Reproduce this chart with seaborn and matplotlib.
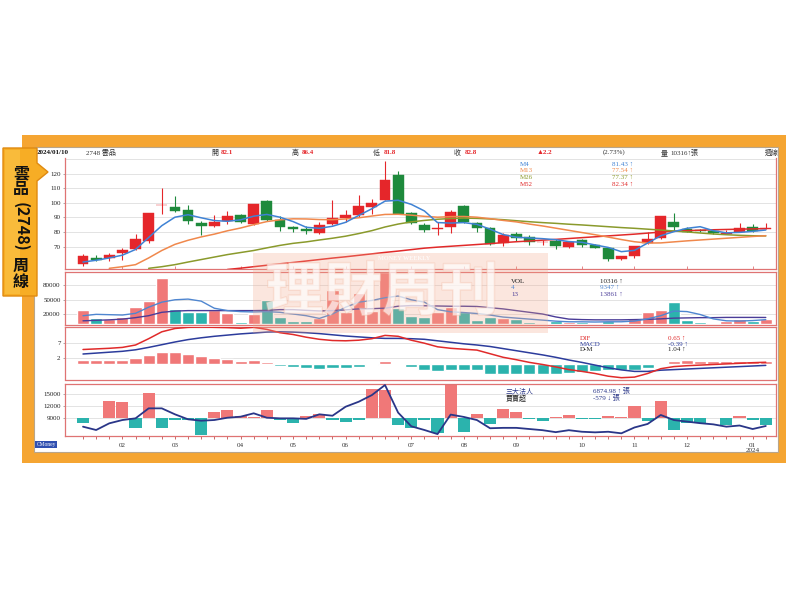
import numpy as np
import pandas as pd
import matplotlib
matplotlib.use("Agg")
import matplotlib.pyplot as plt
import matplotlib.patheffects as pe
from matplotlib.patches import Rectangle, Polygon
import seaborn as sns

nan = float("nan")

# ---------------- weekly data 2023/01 - 2024/01/10 (2748 雲品) ----------------
opens = [58.4, 62.3, 62.3, 65.6, 68.1, 74.0, 98.5, 97.2, 95.0, 86.3,
         84.2, 87.7, 92.0, 85.6, 101.4, 88.4, 83.3, 82.3, 79.3, 85.6,
         89.8, 91.4, 97.2, 102.3, 119.3, 93.3, 85.0, 82.3, 83.3, 97.7,
         86.0, 82.6, 72.4, 78.8, 76.7, 73.0, 74.2, 70.0, 74.3, 71.1,
         69.0, 61.6, 63.4, 72.5, 75.7, 86.7, 82.3, 81.2, 80.8, 79.0,
         80.2, 83.4, 82.1]
highs = [65.0, 64.6, 65.8, 68.8, 78.6, 93.3, 110.5, 104.6, 98.4, 87.4,
         91.4, 94.4, 92.6, 99.5, 102.3, 90.7, 84.4, 84.4, 86.7, 101.9,
         95.3, 105.3, 103.0, 128.5, 121.6, 93.7, 86.0, 86.7, 94.9, 98.4,
         86.7, 83.3, 79.1, 79.8, 77.8, 74.5, 75.0, 73.5, 75.3, 72.0,
         70.0, 63.8, 70.7, 79.8, 91.0, 92.8, 83.6, 82.0, 81.2, 81.5,
         86.5, 85.5, 86.4]
lows = [56.5, 60.0, 60.5, 61.0, 67.4, 72.8, 92.6, 93.7, 85.6, 78.1,
        83.3, 85.6, 86.0, 85.1, 87.9, 80.9, 79.8, 78.6, 78.6, 85.1,
        86.7, 90.2, 92.6, 101.9, 92.1, 85.6, 79.8, 78.1, 79.1, 86.0,
        79.8, 71.2, 70.5, 74.0, 71.5, 71.2, 68.5, 69.3, 70.0, 68.8,
        60.5, 60.6, 62.3, 72.0, 75.6, 80.9, 79.8, 80.0, 78.6, 78.8,
        79.8, 80.4, 81.8]
closes = [63.5, 61.0, 64.2, 67.4, 75.1, 93.3, 98.8, 94.2, 87.5, 84.2,
          87.2, 90.9, 87.2, 99.5, 88.6, 83.7, 81.9, 80.5, 85.1, 89.8,
          91.4, 97.7, 100.0, 115.8, 92.1, 86.3, 81.6, 82.6, 93.7, 86.7,
          82.6, 71.8, 78.3, 76.2, 73.5, 73.4, 70.2, 73.0, 71.2, 69.0,
          61.3, 63.4, 70.2, 75.4, 90.8, 83.6, 80.2, 80.9, 79.3, 79.6,
          82.8, 80.6, 82.8]

ma4 = [59.5, 60.7, 62.3, 64.2, 68.1, 76.3, 84.4, 90.2, 91.9, 89.8,
       87.9, 87.4, 88.4, 90.9, 92.1, 90.2, 87.2, 83.3, 82.6, 84.0,
       86.7, 91.4, 96.0, 101.2, 101.8, 99.0, 94.5, 86.5, 86.2, 86.5,
       85.3, 82.0, 78.3, 76.5, 76.0, 75.5, 74.8, 73.5, 73.0, 71.2,
       69.5, 66.6, 67.5, 72.5, 77.5, 80.3, 82.6, 83.7, 81.0, 79.5,
       79.8, 80.5, 81.43]
ma13 = [nan, nan, 55.2, 56.3, 57.7, 62.3, 67.4, 71.6, 74.4, 76.7,
        78.6, 80.9, 82.8, 85.1, 87.2, 88.4, 89.1, 89.0, 88.6, 88.5,
        89.0, 89.8, 91.0, 92.1, 92.2, 91.6, 90.8, 90.2, 90.6, 90.7,
        90.2, 89.2, 88.0, 87.0, 85.5, 84.2, 82.7, 81.2, 79.7, 78.2,
        76.6, 74.9, 73.4, 72.5, 72.6, 73.3, 74.0, 74.6, 75.2, 75.8,
        76.4, 77.0, 77.54]
ma26 = [nan, nan, nan, nan, nan, 55.2, 56.3, 57.7, 59.5, 61.2,
        62.9, 64.6, 66.0, 67.4, 69.2, 70.9, 72.3, 73.3, 74.6, 75.8,
        77.2, 79.0, 81.0, 83.5, 85.5, 87.0, 88.0, 88.8, 89.3, 89.6,
        89.4, 89.0, 88.5, 87.8, 87.1, 86.5, 86.0, 85.4, 84.9, 84.3,
        83.7, 83.1, 82.6, 82.0, 81.4, 80.8, 80.1, 79.4, 78.7, 78.2,
        77.8, 77.5, 77.37]
ma52 = [nan, nan, nan, nan, nan, nan, nan, nan, nan, nan,
        nan, 54.4, 55.3, 56.3, 57.3, 58.3, 59.2, 60.2, 61.2, 62.2,
        63.1, 64.1, 65.1, 66.1, 67.0, 68.0, 69.0, 69.7, 70.3, 70.9,
        71.5, 72.1, 72.8, 73.4, 73.9, 74.5, 75.0, 75.6, 76.2, 76.8,
        77.4, 78.0, 78.6, 79.3, 80.0, 80.6, 81.0, 81.3, 81.6, 81.8,
        82.0, 82.2, 82.34]

volume = [30000, 12600, 10500, 15400, 35000, 46800, 95800, 31500, 25900, 25900,
          30000, 23000, 4900, 21000, 50300, 14000, 7000, 7000, 11900, 70000,
          25900, 65000, 28000, 108000, 32900, 17500, 15400, 25900, 35000, 24500,
          9100, 14000, 12600, 10500, 4900, 3500, 5600, 4900, 4900, 3500,
          7000, 3500, 11900, 24500, 29400, 45400, 9100, 4900, 3500, 7000,
          10500, 7000, 10316]
vol_ma4 = [17500, 20300, 19600, 18900, 22400, 35000, 45400, 50300, 51700, 47500,
           32900, 28000, 25900, 25200, 25900, 24500, 21000, 17500, 11900, 21000,
           35000, 45400, 48900, 54500, 58000, 50300, 45400, 30000, 25500, 24000,
           22000, 18900, 14700, 12600, 10500, 8400, 6300, 5000, 4900, 4500,
           5000, 5000, 6500, 11000, 17500, 27000, 26000, 20000, 11000, 7000,
           6500, 7500, 9347]
vol_ma13 = [7000, 8000, 9000, 10500, 13500, 17500, 24500, 27000, 28000, 28000,
            28000, 28000, 28000, 28000, 28500, 30000, 30000, 28500, 27300, 28000,
            29500, 31500, 32000, 33000, 37000, 38400, 38000, 37500, 37000, 37000,
            36500, 34000, 31500, 28000, 24500, 21000, 15000, 10500, 9500, 9000,
            9000, 9000, 9500, 10000, 11000, 12500, 13000, 13500, 13500, 14000,
            14000, 14000, 13861]

dif = [4.9, 5.1, 5.3, 5.6, 6.4, 8.5, 10.8, 11.9, 12.3, 12.4,
       12.3, 12.2, 12.0, 12.3, 11.6, 10.5, 9.9, 9.0, 8.3, 7.9,
       7.8, 8.0, 8.5, 9.6, 9.3, 8.0, 7.0, 5.8, 5.3, 5.0,
       4.7, 3.5, 2.3, 1.5, 0.6, -0.1, -0.9, -1.8, -2.4, -3.1,
       -4.0, -4.5, -4.3, -3.1, -1.5, -0.8, -0.5, -0.3, -0.1, 0.1,
       0.3, 0.5, 0.65]
macd = [3.4, 3.7, 4.0, 4.3, 4.8, 5.6, 6.5, 7.4, 8.2, 8.8,
        9.3, 9.7, 10.1, 10.4, 10.7, 10.8, 10.7, 10.5, 10.2, 9.8,
        9.4, 9.1, 8.8, 8.6, 8.6, 8.5, 8.3, 7.8, 7.3, 6.8,
        6.4, 5.9, 5.2, 4.5, 3.8, 3.1, 2.3, 1.4, 0.6, -0.3,
        -1.2, -1.9, -2.4, -2.4, -2.0, -1.8, -1.6, -1.4, -1.2, -1.0,
        -0.8, -0.6, -0.39]
osc = [1.55, 1.3, 1.3, 1.4, 1.9, 3.0, 4.1, 4.1, 3.4, 2.6,
       2.1, 1.8, 1.0, 1.3, 0.6, -0.7, -1.0, -1.4, -1.7, -1.4,
       -1.2, -0.8, -0.3, 1.0, 0.2, -0.9, -1.9, -2.3, -1.8, -1.8,
       -2.1, -3.2, -3.2, -3.2, -3.2, -3.2, -3.2, -2.9, -2.6, -2.3,
       -2.1, -1.8, -1.8, -1.2, 0.3, 1.2, 1.3, 1.2, 1.1, 1.1,
       1.0, 1.0, 1.04]

inst_net = [-1450, 0, 4360, 4020, -2650, 6330, -2650, -700, -600, -4360,
            1450, 2050, 340, 260, 1970, -510, -1450, 510, 1030, -510,
            -1030, -510, 7350, 7100, -1800, -2650, -680, -3930, 8720, -3680,
            1030, -1620, 2220, 1450, -340, -770, 170, 770, -340, -430,
            510, 170, 3080, -770, 4190, -3080, -1370, -1370, 0, -1970,
            340, -510, -1970]
inst_hold = [6700, 5850, 7560, 8410, 8840, 11400, 11400, 9870, 8590, 8230,
             8410, 9000, 9260, 10130, 9000, 8840, 8840, 8700, 9870, 9510,
             11820, 13100, 14800, 17380, 10300, 6800, 5850, 4800, 9800, 9200,
             8400, 6300, 6400, 6400, 6100, 5800, 5300, 5800, 5400, 5250,
             5400, 5000, 6500, 7400, 9700, 8400, 8000, 7600, 7300, 6700,
             7000, 6100, 6875]

month_pos = [3, 7, 12, 16, 20, 25, 29, 33, 38, 42, 46, 51]
month_labels = ["02", "03", "04", "05", "06", "07", "08", "09", "10", "11", "12", "01\n2024"]
price_ticks = [70, 80, 90, 100, 110, 120]
vol_ticks = [20000, 50000, 80000]
macd_ticks = [2, 7]
inst_ticks = [9000, 12000, 15000]
inst_base = 9000

# ---------------- style ----------------
sns.set_theme(style="white")
plt.rcParams['font.family'] = ['Liberation Serif', 'Noto Sans CJK TC', 'DejaVu Sans']
plt.rcParams['axes.unicode_minus'] = False

RED_C = '#e5262a'
GRN_C = '#1e8a3c'
RED_B = '#f07878'
TEAL_B = '#2bb3ad'
BORDER = '#df7373'
GRID = '#dedede'
C_M4, C_M13, C_M26, C_M52 = '#3f82d4', '#f0884c', '#8a9a2c', '#e12a2a'
C_V4, C_V13 = '#4f86d0', '#4a3c98'
C_DIF, C_MACD = '#e02a2a', '#2c3c9c'
C_INST = '#2a3688'
ORANGE = '#f5a532'

W, H = 800, 600
fig = plt.figure(figsize=(W / 100, H / 100), dpi=100)
fig.patch.set_facecolor('white')


def P(x, y):
    return (x / W, 1 - y / H)


def rect_px(x0, y0, x1, y1, **kw):
    r = Rectangle(P(x0, y1), (x1 - x0) / W, (y1 - y0) / H, transform=fig.transFigure, **kw)
    fig.add_artist(r)
    return r


def text_px(x, y, s, **kw):
    kw.setdefault('va', 'center')
    kw.setdefault('ha', 'left')
    kw.setdefault('fontsize', 5)
    kw.setdefault('color', '#222222')
    return fig.text(x / W, 1 - y / H, s, **kw)


def axes_px(x0, y0, x1, y1):
    return fig.add_axes([x0 / W, 1 - y1 / H, (x1 - x0) / W, (y1 - y0) / H])


# frame
rect_px(22, 135, 786, 463, facecolor=ORANGE, edgecolor='none', zorder=-10)
rect_px(34, 147, 778, 452, facecolor='white', edgecolor='#b9a58a', lw=0.8, zorder=-9)

n = len(closes)
idx = np.arange(n)
XL = (-1.41, 52.74)
L, R = 64.5, 775.5


def style_axis(ax, yt, ylim, fmt=str):
    ax.set_xlim(*XL)
    ax.set_ylim(*ylim)
    ax.set_yticks(yt)
    ax.set_yticklabels([fmt(v) for v in yt], fontsize=5, color='#222222')
    ax.tick_params(axis='y', length=1.6, width=0.5, color='#888888', pad=1.2, left=True)
    ax.set_xlabel('')
    ax.set_ylabel('')
    ax.grid(axis='y', color=GRID, lw=0.6)
    ax.grid(axis='x', visible=False)
    ax.set_axisbelow(True)
    for s in ax.spines.values():
        s.set_color(BORDER)
        s.set_linewidth(0.9)
        s.set_visible(True)


# ---------------- price panel ----------------
axp = axes_px(L, 158, R, 268.5)
for i in range(n):
    o, h, l, c = opens[i], highs[i], lows[i], closes[i]
    col = RED_C if c >= o else GRN_C
    axp.vlines(i, l, h, color=col, lw=0.8, zorder=3)
    axp.bar(i, max(abs(c - o), 0.35), bottom=min(o, c), width=0.82, color=col,
            edgecolor=col, lw=0.3, zorder=4)
for arr, col in [(ma52, C_M52), (ma26, C_M26), (ma13, C_M13), (ma4, C_M4)]:
    sns.lineplot(x=idx, y=arr, ax=axp, color=col, linewidth=1.1, zorder=5)
style_axis(axp, price_ticks, (55.07, 130.75))
axp.axhline(130, color=GRID, lw=0.6, zorder=0)
axp.spines['top'].set_visible(False)
axp.set_xticks(month_pos)
axp.set_xticklabels([])
axp.tick_params(axis='x', direction='in', length=2.5, width=0.6, color=BORDER, bottom=True)

# ---------------- volume panel ----------------
axv = axes_px(L, 271.5, R, 324.5)
dirs = ['up' if closes[i] >= opens[i] else 'down' for i in range(n)]
dfv = pd.DataFrame({'i': idx, 'vol': volume, 'dir': dirs})
sns.barplot(data=dfv, x='i', y='vol', hue='dir', palette={'up': RED_B, 'down': TEAL_B},
            dodge=False, width=0.92, saturation=1, legend=False, ax=axv, zorder=2)
sns.lineplot(x=idx, y=vol_ma13, ax=axv, color=C_V13, linewidth=1.0, zorder=5)
sns.lineplot(x=idx, y=vol_ma4, ax=axv, color=C_V4, linewidth=1.0, zorder=5)
style_axis(axv, vol_ticks, (-600, 108500))
axv.set_xticks([])

# ---------------- MACD panel ----------------
axm = axes_px(L, 327, R, 379.5)
dfm = pd.DataFrame({'i': idx, 'osc': osc, 'sgn': ['pos' if v >= 0 else 'neg' for v in osc]})
sns.barplot(data=dfm, x='i', y='osc', hue='sgn', palette={'pos': RED_B, 'neg': TEAL_B},
            dodge=False, width=0.92, saturation=1, legend=False, ax=axm, zorder=2)
sns.lineplot(x=idx, y=macd, ax=axm, color=C_MACD, linewidth=1.1, zorder=5)
sns.lineplot(x=idx, y=dif, ax=axm, color=C_DIF, linewidth=1.1, zorder=5)
style_axis(axm, macd_ticks, (-5.1, 12.4))
axm.set_xticks([])

# ---------------- institutional panel ----------------
axi = axes_px(L, 383.5, R, 435.5)
for i in range(n):
    v = inst_net[i]
    if v == 0:
        continue
    axi.bar(i, v, bottom=inst_base, width=0.92, color=RED_B if v > 0 else TEAL_B, lw=0, zorder=2)
sns.lineplot(x=idx, y=inst_hold, ax=axi, color=C_INST, linewidth=1.3, zorder=5)
style_axis(axi, inst_ticks, (4440, 17770))
axi.set_xticks(idx)
lab = [''] * n
for p, m in zip(month_pos, month_labels):
    lab[p] = m
axi.set_xticklabels(lab, fontsize=5, color='#333333', linespacing=0.95, va='top')
axi.tick_params(axis='x', direction='out', length=2, width=0.6, color='#c05050', pad=3.5, bottom=True)

# ---------------- header ----------------
hy = 152.5
text_px(37, hy, '2024/01/10', fontweight='bold', color='#111111')
text_px(86, hy, '2748 雲品', color='#333333')
for xk, k, xv, v in [(211, '開', 221, '82.1'), (292, '高', 302, '86.4'),
                     (373, '低', 384, '81.8'), (454, '收', 465, '82.8')]:
    text_px(xk, hy, k, color='#333333')
    text_px(xv, hy, v, color=RED_C, fontweight='bold')
text_px(537, hy, '▲2.2', color=RED_C, fontweight='bold')
text_px(603, hy, '(2.73%)', color='#333333')
text_px(661, hy, '量', color='#333333')
text_px(670, hy, '10316↑張', color='#333333')
text_px(765, hy, '週線', color='#333333')

# price legend
for yy, name, val, col in [(164, 'M4', '81.43 ↑', C_M4), (170.5, 'M13', '77.54 ↑', C_M13),
                           (177.2, 'M26', '77.37 ↑', C_M26), (184, 'M52', '82.34 ↑', C_M52)]:
    text_px(520, yy, name, color=col)
    text_px(612, yy, val, color=col)
# volume legend
for yy, name, val, col in [(281.3, 'VOL', '10316 ↑', '#222222'), (287.5, '4', '9347 ↑', C_V4),
                           (294.5, '13', '13861 ↑', C_V13)]:
    text_px(511, yy, name, color=col, zorder=9)
    text_px(600, yy, val, color=col, zorder=9)
# MACD legend
for yy, name, val, col in [(338, 'DIF', '0.65 ↑', C_DIF), (344, 'MACD', '-0.39 ↑', C_MACD),
                           (349.5, 'D-M', '1.04 ↑', '#222222')]:
    text_px(580, yy, name, color=col)
    text_px(668, yy, val, color=col)
# institutional legend
text_px(506, 390.7, '三大法人', color=C_INST)
text_px(506, 397.5, '買賣超', color='#222222')
text_px(593, 390.7, '6874.98 ↑ 張', color=C_INST)
text_px(593, 397.5, '-579 ↓ 張', color=C_INST)

# CMoney badge
text_px(46, 444.5, 'CMoney', ha='center', fontsize=4, color='white',
        bbox=dict(boxstyle='square,pad=0.25', fc='#2f4fb0', ec='none'))

# ---------------- watermark ----------------
rect_px(253, 253, 548, 333, facecolor='#f2a88a', edgecolor='none', alpha=0.28, zorder=6)
wm = text_px(382, 293, '理財周刊', ha='center', fontsize=42, fontweight='bold',
             color='white', alpha=0.42, family=['Noto Sans CJK TC'], zorder=7)
wm.set_path_effects([pe.withStroke(linewidth=1.2, foreground='#f5c0aa')])
text_px(378, 258.5, 'MONEY WEEKLY', fontsize=4.5, color='white', fontweight='bold', alpha=0.8, zorder=7)

# ---------------- left tab ----------------
tab = [P(3, 148), P(37, 148), P(37, 163), P(48, 172), P(37, 181), P(37, 296), P(3, 296)]
fig.add_artist(Polygon(tab, closed=True, transform=fig.transFigure, facecolor='#f7ad25',
                       edgecolor='#e08a10', lw=1.0, zorder=8))
tab_in = [P(5, 150), P(20, 150), P(20, 294), P(5, 294)]
fig.add_artist(Polygon(tab_in, closed=True, transform=fig.transFigure, facecolor='#fbc64a',
                       edgecolor='none', alpha=0.6, zorder=8))
tf = ['Noto Sans CJK TC', 'DejaVu Sans']
for yy, ch in [(173, '雲'), (189, '品'), (266, '周'), (282, '線')]:
    text_px(21, yy, ch, ha='center', fontsize=11.5, fontweight='bold', color='#111111',
            family=tf, zorder=9)
text_px(21, 227, '(2748)', ha='center', fontsize=11.5, fontweight='bold', color='#111111',
        rotation=-90, family=tf, zorder=9)

fig.savefig('out.png', dpi=100)
